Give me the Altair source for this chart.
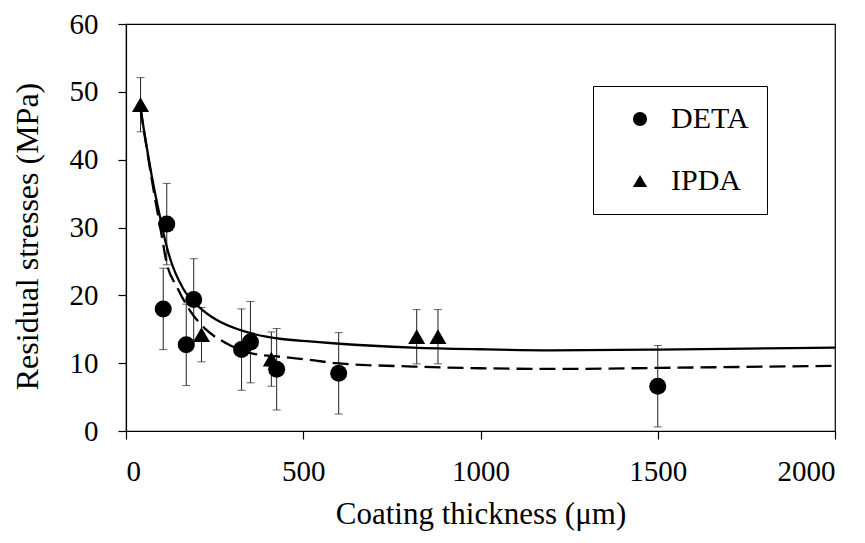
import altair as alt
import pandas as pd

# Measured data
deta_x = [105, 115, 170, 191, 326, 351, 425, 600, 1500]
deta_y = [18.0, 30.5, 12.7, 19.4, 12.0, 13.1, 9.1, 8.5, 6.6]
deta_err = [6.0, 6.0, 6.0, 6.0, 6.0, 6.0, 6.0, 6.0, 6.0]

ipda_x = [41, 213, 410, 820, 880]
ipda_y = [48.1, 14.2, 10.6, 13.9, 13.9]
ipda_err = [4.0, 4.0, 4.0, 4.0, 4.0]

# Fitted curves
fit_deta_x = [41, 73, 99, 110, 124, 161, 208, 255, 321, 396, 434, 518, 593, 809, 997, 1200, 1500, 1750, 2000]
fit_deta_y = [47.5, 37.5, 30.8, 28.2, 25.5, 21.0, 18.2, 16.4, 14.9, 13.9, 13.6, 13.2, 12.9, 12.3, 12.05, 11.9, 12.0, 12.15, 12.3]

fit_ipda_x = [41, 73, 100, 115, 143, 180, 227, 284, 349, 443, 518, 593, 809, 997, 1222, 1500, 1750, 2000]
fit_ipda_y = [47.5, 37.0, 29.0, 24.7, 21.3, 17.8, 14.9, 12.9, 11.5, 10.9, 10.5, 10.0, 9.5, 9.25, 9.15, 9.3, 9.45, 9.6]

series_names = ["DETA", "IPDA"]
x_ticks = [0, 500, 1000, 1500, 2000]
y_ticks = [0, 10, 20, 30, 40, 50, 60]

FONT = "Liberation Serif"

pts = pd.DataFrame({
    "x": deta_x + ipda_x,
    "y": deta_y + ipda_y,
    "err": deta_err + ipda_err,
    "series": ["DETA"] * len(deta_x) + ["IPDA"] * len(ipda_x),
})
pts["lo"] = pts["y"] - pts["err"]
pts["hi"] = pts["y"] + pts["err"]

fit_d = pd.DataFrame({"x": fit_deta_x, "y": fit_deta_y})
fit_i = pd.DataFrame({"x": fit_ipda_x, "y": fit_ipda_y})

xscale = alt.Scale(domain=[0, 2000], nice=False, zero=False)
yscale = alt.Scale(domain=[0, 60], nice=False)

xaxis = alt.Axis(values=x_ticks, format="d", title="Coating thickness (μm)", grid=False,
                 tickSize=8, labelPadding=18, titlePadding=13, labelFontSize=29,
                 titleFontSize=31)
yaxis = alt.Axis(values=y_ticks, format="d", title="Residual stresses (MPa)", grid=False,
                 tickSize=8, labelPadding=20, titlePadding=25, labelFontSize=29,
                 titleFontSize=32, titleY=212)

base = alt.Chart(pts)

bars = base.mark_rule(color="#222", strokeWidth=1).encode(
    x=alt.X("x:Q", scale=xscale, axis=xaxis),
    y=alt.Y("lo:Q", scale=yscale, axis=yaxis),
    y2="hi:Q",
)
cap_lo = base.mark_tick(color="#222", orient="horizontal", size=8, thickness=1).encode(
    x=alt.X("x:Q", scale=xscale), y=alt.Y("lo:Q", scale=yscale))
cap_hi = base.mark_tick(color="#222", orient="horizontal", size=8, thickness=1).encode(
    x=alt.X("x:Q", scale=xscale), y=alt.Y("hi:Q", scale=yscale))

line_d = alt.Chart(fit_d).mark_line(color="black", strokeWidth=2.3, interpolate="monotone").encode(
    x=alt.X("x:Q", scale=xscale), y=alt.Y("y:Q", scale=yscale))
line_i = alt.Chart(fit_i).mark_line(color="black", strokeWidth=2.3, strokeDash=[16, 7],
                                    interpolate="monotone").encode(
    x=alt.X("x:Q", scale=xscale), y=alt.Y("y:Q", scale=yscale))

points = base.mark_point(filled=True, color="black", opacity=1, size=290).encode(
    x=alt.X("x:Q", scale=xscale),
    y=alt.Y("y:Q", scale=yscale),
    shape=alt.Shape("series:N",
                    scale=alt.Scale(domain=series_names, range=["circle", "triangle-up"]),
                    legend=alt.Legend(orient="none", legendX=467, legendY=62, title=None,
                                      strokeColor="black", fillColor="white", padding=18,
                                      rowPadding=32, symbolOffset=14, labelOffset=16,
                                      labelFont=FONT, labelFontSize=30, labelColor="black",
                                      symbolSize=200, symbolFillColor="black",
                                      symbolStrokeWidth=0)),
)

chart = alt.layer(bars, cap_lo, cap_hi, line_i, line_d, points).properties(
    width=709, height=407,
    autosize=alt.AutoSizeParams(type="none"),
    padding={"left": 118, "top": 16, "right": 22, "bottom": 104},
    background="white",
).configure_view(stroke="black", strokeWidth=1.2).configure_axis(
    labelFont=FONT, labelColor="black",
    titleFont=FONT, titleFontWeight="normal", titleColor="black",
    domainColor="black", domainWidth=1.2, tickColor="black", tickWidth=1.2,
)

chart.save("out.html", embed_options={"renderer": "svg", "actions": False})
